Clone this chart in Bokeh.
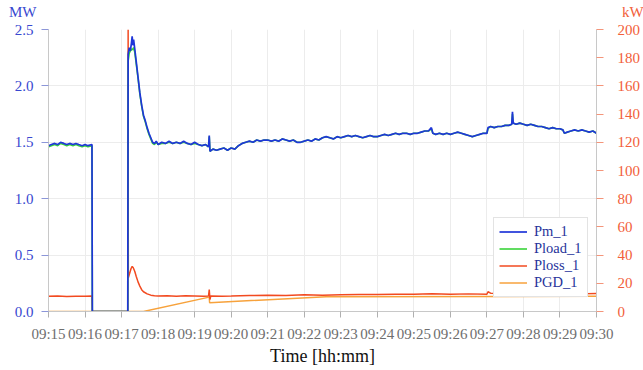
from bokeh.plotting import figure
from bokeh.models import (Range1d, LinearAxis, FixedTicker, Legend, LegendItem, Div)
from bokeh.layouts import column
from bokeh.embed import file_html
from bokeh.resources import INLINE

# ---- data (x = minutes past 09:00) ----
x_ticks = [15, 16, 17, 18, 19, 20, 21, 22, 23, 24, 25, 26, 27, 28, 29, 30]
x_tick_labels = ["09:15", "09:16", "09:17", "09:18", "09:19", "09:20", "09:21", "09:22",
                 "09:23", "09:24", "09:25", "09:26", "09:27", "09:28", "09:29", "09:30"]
mw_ticks = [0.0, 0.5, 1.0, 1.5, 2.0, 2.5]
mw_tick_labels = ["0.0", "0.5", "1.0", "1.5", "2.0", "2.5"]
kw_ticks = [0, 20, 40, 60, 80, 100, 120, 140, 160, 180, 200]

pm_t = [15.00, 15.08, 15.17, 15.25, 15.33, 15.42, 15.50, 15.58, 15.67, 15.75, 15.83, 15.92,
        16.00, 16.08, 16.19, 16.20, 17.17, 17.18, 17.21, 17.24, 17.27, 17.29, 17.31, 17.33,
        17.36, 17.40, 17.45, 17.50, 17.55, 17.60, 17.65, 17.70, 17.75, 17.80, 17.85, 17.90,
        17.95, 18.00, 18.10, 18.20, 18.30, 18.40, 18.50, 18.60, 18.70, 18.80, 18.90, 19.00,
        19.10, 19.20, 19.30, 19.38, 19.40, 19.42, 19.50, 19.60, 19.70, 19.80, 19.90, 20.00,
        20.10, 20.20, 20.30, 20.40, 20.50, 20.60, 20.70, 20.80, 20.90, 21.00, 21.10, 21.20,
        21.30, 21.40, 21.50, 21.60, 21.70, 21.80, 21.90, 22.00, 22.10, 22.20, 22.30, 22.40,
        22.50, 22.60, 22.70, 22.80, 22.90, 23.00, 23.10, 23.20, 23.30, 23.40, 23.50, 23.60,
        23.70, 23.80, 23.90, 24.00, 24.10, 24.20, 24.30, 24.40, 24.50, 24.60, 24.70, 24.80,
        24.90, 25.00, 25.10, 25.20, 25.30, 25.40, 25.48, 25.52, 25.60, 25.70, 25.80, 25.90,
        26.00, 26.10, 26.20, 26.30, 26.40, 26.50, 26.60, 26.70, 26.80, 26.90, 27.00, 27.03,
        27.10, 27.20, 27.30, 27.40, 27.50, 27.60, 27.68, 27.70, 27.72, 27.80, 27.90, 28.00,
        28.10, 28.20, 28.30, 28.40, 28.50, 28.60, 28.70, 28.80, 28.90, 29.00, 29.08, 29.12,
        29.20, 29.30, 29.40, 29.50, 29.60, 29.70, 29.80, 29.90, 30.00]
pm_mw = [1.47, 1.48, 1.49, 1.48, 1.50, 1.49, 1.48, 1.49, 1.48, 1.49, 1.48, 1.47,
         1.48, 1.47, 1.48, 0.00, 0.00, 2.28, 2.34, 2.31, 2.38, 2.44, 2.36, 2.41,
         2.33, 2.22, 2.08, 1.94, 1.83, 1.74, 1.69, 1.63, 1.58, 1.54, 1.50, 1.49,
         1.51, 1.48, 1.50, 1.49, 1.51, 1.49, 1.50, 1.49, 1.51, 1.49, 1.48, 1.50,
         1.48, 1.47, 1.48, 1.46, 1.56, 1.42, 1.44, 1.43, 1.44, 1.45, 1.43, 1.45,
         1.44, 1.47, 1.49, 1.50, 1.51, 1.50, 1.52, 1.51, 1.52, 1.52, 1.51, 1.52,
         1.51, 1.53, 1.52, 1.51, 1.52, 1.50, 1.50, 1.51, 1.52, 1.51, 1.53, 1.52,
         1.54, 1.55, 1.54, 1.53, 1.55, 1.54, 1.55, 1.56, 1.55, 1.56, 1.55, 1.54,
         1.55, 1.56, 1.55, 1.55, 1.56, 1.57, 1.56, 1.57, 1.58, 1.57, 1.58, 1.58,
         1.57, 1.58, 1.58, 1.59, 1.60, 1.60, 1.63, 1.58, 1.57, 1.58, 1.57, 1.58,
         1.57, 1.58, 1.59, 1.58, 1.57, 1.56, 1.55, 1.56, 1.57, 1.58, 1.58, 1.63,
         1.64, 1.63, 1.64, 1.64, 1.65, 1.65, 1.66, 1.77, 1.67, 1.66, 1.67, 1.66,
         1.65, 1.66, 1.65, 1.64, 1.64, 1.63, 1.62, 1.63, 1.62, 1.62, 1.61, 1.58,
         1.59, 1.60, 1.61, 1.60, 1.61, 1.60, 1.59, 1.60, 1.58]

# Pload_1 is sampled at the same instants as Pm_1 (pm_t)
pload_mw = [1.46, 1.47, 1.48, 1.47, 1.49, 1.48, 1.47, 1.48, 1.47, 1.48, 1.47, 1.46,
            1.47, 1.46, 1.47, 0.00, 0.00, 2.22, 2.29, 2.31, 2.32, 2.33, 2.32, 2.34,
            2.30, 2.20, 2.07, 1.93, 1.82, 1.73, 1.68, 1.62, 1.57, 1.53, 1.49, 1.48,
            1.50, 1.48, 1.49, 1.49, 1.50, 1.49, 1.50, 1.49, 1.50, 1.49, 1.48, 1.49,
            1.48, 1.47, 1.48, 1.46, 1.55, 1.42, 1.44, 1.43, 1.44, 1.45, 1.43, 1.45,
            1.44, 1.47, 1.49, 1.50, 1.51, 1.50, 1.52, 1.51, 1.52, 1.52, 1.51, 1.52,
            1.51, 1.53, 1.52, 1.51, 1.52, 1.50, 1.50, 1.51, 1.52, 1.51, 1.53, 1.52,
            1.54, 1.55, 1.54, 1.53, 1.55, 1.54, 1.55, 1.56, 1.55, 1.56, 1.55, 1.54,
            1.55, 1.56, 1.55, 1.55, 1.56, 1.57, 1.56, 1.57, 1.58, 1.57, 1.58, 1.58,
            1.57, 1.58, 1.58, 1.59, 1.60, 1.60, 1.62, 1.58, 1.57, 1.58, 1.57, 1.58,
            1.57, 1.58, 1.59, 1.58, 1.57, 1.56, 1.55, 1.56, 1.57, 1.58, 1.58, 1.62,
            1.64, 1.63, 1.64, 1.64, 1.65, 1.65, 1.66, 1.75, 1.67, 1.66, 1.67, 1.66,
            1.65, 1.66, 1.65, 1.64, 1.64, 1.63, 1.62, 1.63, 1.62, 1.62, 1.61, 1.58,
            1.59, 1.60, 1.61, 1.60, 1.61, 1.60, 1.59, 1.60, 1.58]

ploss_t = [15.00, 15.25, 15.50, 15.75, 16.00, 16.19, 16.20, 17.17, 17.18, 17.185, 17.22, 17.26,
           17.29, 17.32, 17.36, 17.40, 17.45, 17.50, 17.55, 17.60, 17.70, 17.80, 17.90, 18.00,
           18.25, 18.50, 18.75, 19.00, 19.25, 19.38, 19.40, 19.42, 19.44, 19.75, 20.00, 20.50,
           21.00, 21.50, 22.00, 22.50, 23.00, 23.50, 24.00, 24.50, 25.00, 25.50, 26.00, 26.50,
           27.00, 27.03, 27.10, 27.50, 28.00, 28.50, 29.00, 29.50, 30.00]
ploss_kw = [10.8, 11.0, 10.7, 10.9, 10.8, 11.0, 0.0, 0.0, 200.0, 24.0, 27.0, 30.5,
            32.0, 31.0, 28.5, 25.0, 21.0, 18.0, 15.5, 14.0, 12.5, 11.6, 11.2, 11.0,
            11.2, 10.9, 11.1, 11.0, 10.8, 11.0, 15.5, 8.5, 11.0, 10.9, 11.0, 11.3,
            11.6, 11.4, 11.8, 11.6, 11.9, 12.1, 12.0, 12.3, 12.2, 12.6, 12.3, 12.5,
            12.2, 14.0, 13.0, 12.8, 12.9, 12.6, 12.8, 12.5, 12.7]

pgd_t = [15.00, 17.60, 19.40, 19.41, 22.60, 30.00]
pgd_kw = [0.0, 0.0, 10.2, 6.2, 10.5, 10.8]

unit_left = "MW"
unit_right = "kW"
legend_labels = ["Pm_1", "Pload_1", "Ploss_1", "PGD_1"]

# ---- colours ----
C_PM = "#1f36d8"
C_PLOAD = "#3ad43a"
C_PLOSS = "#f24a20"
C_PGD = "#f7a23c"
C_LEFT = "#3848d0"
C_RIGHT = "#f2603a"
FONT_Q = '"Liberation Serif"'

header_html = (
    '<div style="position:relative;width:643px;height:20px;'
    "font-family:'Liberation Serif',serif;font-size:15px;line-height:15px;\">"
    f'<span style="position:absolute;left:9px;top:5px;color:{C_LEFT};">{unit_left}</span>'
    f'<span style="position:absolute;left:622px;top:5px;color:{C_RIGHT};">{unit_right}</span>'
    '</div>'
)
header = Div(text=header_html, width=643, height=20, margin=(0, 0, 0, 0))

p = figure(width=643, height=350, output_backend="svg", toolbar_location=None,
           x_range=Range1d(15, 30), y_range=Range1d(0, 2.5), title_location=None,
           min_border_left=48, min_border_right=45, min_border_top=9, min_border_bottom=59,
           margin=(0, 0, 0, 0))
p.extra_y_ranges = {"kw": Range1d(0, 200)}
p.outline_line_color = None
p.background_fill_color = "white"

r_pgd = p.line(pgd_t, pgd_kw, color=C_PGD, line_width=1.5, y_range_name="kw")
r_ploss = p.line(ploss_t, ploss_kw, color=C_PLOSS, line_width=1.5, y_range_name="kw")
r_pload = p.line(pm_t, pload_mw, color=C_PLOAD, line_width=1.6)
r_pm = p.line(pm_t, pm_mw, color=C_PM, line_width=1.7)

# x axis
xa = p.xaxis[0]
xa.ticker = FixedTicker(ticks=x_ticks)
xa.major_label_overrides = {t: l for t, l in zip(x_ticks, x_tick_labels)}
xa.minor_tick_line_color = None
xa.major_tick_in = 0
xa.major_tick_out = 6
xa.axis_line_color = "#c8c8c8"
xa.major_tick_line_color = "#b0b0b0"
xa.major_label_text_font = FONT_Q
xa.major_label_text_font_size = "15px"
xa.major_label_text_color = "#6e6e6e"
xa.major_label_standoff = 8
xa.axis_label = "Time [hh:mm]"
xa.axis_label_text_font = FONT_Q
xa.axis_label_text_font_size = "18px"
xa.axis_label_text_font_style = "normal"
xa.axis_label_text_color = "#111111"
xa.axis_label_standoff = 1

# left axis
ya = p.yaxis[0]
ya.ticker = FixedTicker(ticks=mw_ticks)
ya.major_label_overrides = {t: l for t, l in zip(mw_ticks, mw_tick_labels)}
ya.minor_tick_line_color = None
ya.major_tick_in = 0
ya.major_tick_out = 7
ya.axis_line_color = "#c8c8c8"
ya.major_tick_line_color = "#8c96d8"
ya.major_label_text_font = FONT_Q
ya.major_label_text_font_size = "15px"
ya.major_label_text_color = C_LEFT
ya.major_label_standoff = 8

# right axis
ra = LinearAxis(y_range_name="kw", ticker=FixedTicker(ticks=kw_ticks))
ra.minor_tick_line_color = None
ra.major_tick_in = 0
ra.major_tick_out = 7
ra.axis_line_color = "#c8c8c8"
ra.major_tick_line_color = "#f4957a"
ra.major_label_text_font = FONT_Q
ra.major_label_text_font_size = "15px"
ra.major_label_text_color = C_RIGHT
ra.major_label_standoff = 14
p.add_layout(ra, "right")

p.xgrid.ticker = FixedTicker(ticks=x_ticks)
p.ygrid.ticker = FixedTicker(ticks=mw_ticks)
p.xgrid.grid_line_color = "#ececec"
p.ygrid.grid_line_color = "#ececec"

legend = Legend(items=[
    LegendItem(label=legend_labels[0], renderers=[r_pm]),
    LegendItem(label=legend_labels[1], renderers=[r_pload]),
    LegendItem(label=legend_labels[2], renderers=[r_ploss]),
    LegendItem(label=legend_labels[3], renderers=[r_pgd]),
], location=(445, 14))
legend.label_text_font = FONT_Q
legend.label_text_font_size = "14.5px"
legend.label_text_color = "#27339a"
legend.glyph_width = 28
legend.glyph_height = 17
legend.label_height = 17
legend.label_standoff = 7
legend.spacing = 0
legend.padding = 5
legend.margin = 0
legend.border_line_color = "#c8c8c8"
legend.background_fill_alpha = 1.0
p.add_layout(legend, "center")

layout = column(header, p, spacing=0, margin=(0, 0, 0, 0))

open("out.html", "w").write(file_html(layout, INLINE))
